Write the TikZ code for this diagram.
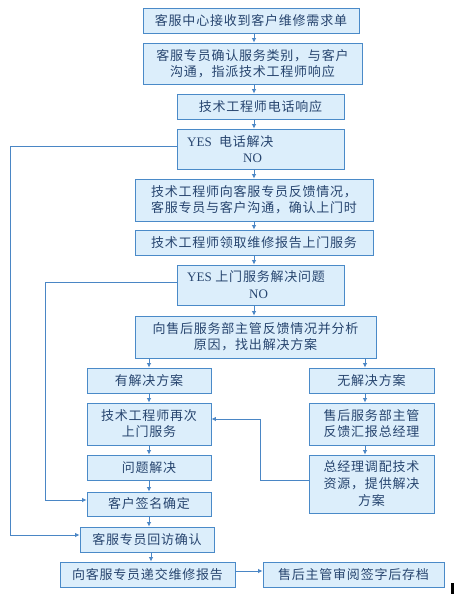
\documentclass[tikz,border=0pt]{standalone}
\usepackage{fontspec}
\setmainfont{Noto Sans CJK SC}[LetterSpace=6]
\newfontfamily\yesfont{Liberation Serif}
\usetikzlibrary{arrows.meta,shadows}
\definecolor{boxfill}{HTML}{DCEEFB}
\definecolor{boxline}{HTML}{4A8AC8}
\definecolor{boxdark}{HTML}{2F6FAF}
\definecolor{txtc}{HTML}{27456F}
\definecolor{conn}{HTML}{4A86C5}
\tikzset{
  box/.style={draw=boxline, fill=boxfill, line width=0.9pt, text=txtc, inner sep=0pt,
    font=\fontsize{13}{16}\selectfont, align=center,
    drop shadow={shadow xshift=0.9pt, shadow yshift=-0.9pt, fill=boxdark, opacity=1}},
  lbl/.style={text=txtc, inner sep=0pt, font=\fontsize{13}{16}\selectfont},
  arr/.style={draw=conn, line width=0.8pt, -{Latex[length=4.5pt,width=4.5pt]}},
}
\begin{document}
\begin{tikzpicture}[x=1pt,y=-1pt]
\useasboundingbox (0,0) rectangle (454,594);
\fill[white] (0,0) rectangle (454,594);

\node[box, minimum width=216pt, minimum height=25pt] (b1) at (251,20.5) {客服中心接收到客户维修需求单};
\node[box, minimum width=219pt, minimum height=41pt] (b2) at (252.5,63.5) {客服专员确认服务类别，与客户\\沟通，指派技术工程师响应};
\node[box, minimum width=167pt, minimum height=25pt] (b3) at (260.5,106.5) {技术工程师电话响应};
\node[box, minimum width=167pt, minimum height=40pt] (b4) at (260.5,149) {};
\node[lbl, anchor=west] (t4a) at (187,142) {{\yesfont YES}\ \ 电话解决};
\node[lbl] (t4b) at (252.5,158) {\yesfont NO};
\node[box, minimum width=238pt, minimum height=42pt, align=left] (b5) at (254,200) {技术工程师向客服专员反馈情况，\\客服专员与客户沟通，确认上门时};
\node[box, minimum width=238pt, minimum height=25pt] (b6) at (254,242.5) {技术工程师领取维修报告上门服务};
\node[box, minimum width=167pt, minimum height=40pt] (b7) at (260.5,285) {};
\node[lbl, anchor=west] (t7a) at (187,277) {{\yesfont YES} 上门服务解决问题};
\node[lbl] (t7b) at (258.5,294) {\yesfont NO};
\node[box, minimum width=241pt, minimum height=42pt] (b8) at (255.5,337) {向售后服务部主管反馈情况并分析\\原因，找出解决方案};
\node[box, minimum width=124pt, minimum height=25pt] (b9) at (149,380.5) {有解决方案};
\node[box, minimum width=125pt, minimum height=25pt] (b10) at (371.5,380.5) {无解决方案};
\node[box, minimum width=124pt, minimum height=42pt] (b11) at (149,424) {技术工程师再次\\上门服务};
\node[box, minimum width=125pt, minimum height=42pt] (b12) at (371.5,424) {售后服务部主管\\反馈汇报总经理};
\node[box, minimum width=124pt, minimum height=25pt] (b13) at (149,467.5) {问题解决};
\node[box, minimum width=125pt, minimum height=58pt, font=\fontsize{13}{17}\selectfont] (b14) at (371.5,484) {总经理调配技术\\资源，提供解决\\方案};
\node[box, minimum width=124pt, minimum height=24pt] (b15) at (149,504) {客户签名确定};
\node[box, minimum width=134pt, minimum height=25pt] (b16) at (147,539.5) {客服专员回访确认};
\node[box, minimum width=175pt, minimum height=25pt] (b17) at (147.5,574.5) {向客服专员递交维修报告};
\node[box, minimum width=181pt, minimum height=25pt] (b18) at (353.5,574.5) {售后主管审阅签字后存档};

\coordinate (mx) at (254,0);
\coordinate (lx) at (149,0);
\coordinate (lx2) at (151,0);
\coordinate (rx) at (365,0);
\coordinate (hy) at (0,571);

\draw[arr] (b1.south -| mx) -- (b2.north -| mx);
\draw[arr] (b2.south -| mx) -- (b3.north -| mx);
\draw[arr] (b3.south -| mx) -- (b4.north -| mx);
\draw[arr] (b4.south -| mx) -- (b5.north -| mx);
\draw[arr] (b5.south -| mx) -- (b6.north -| mx);
\draw[arr] (b6.south -| mx) -- (b7.north -| mx);
\draw[arr] (b7.south -| mx) -- (b8.north -| mx);
\draw[arr] (b8.south -| lx) -- (b9.north -| lx);
\draw[arr] (b8.south -| rx) -- (b10.north -| rx);
\draw[arr] (b9.south -| lx) -- (b11.north -| lx);
\draw[arr] (b11.south -| lx) -- (b13.north -| lx);
\draw[arr] (b13.south -| lx) -- (b15.north -| lx);
\draw[arr] (b15.south -| lx) -- (b16.north -| lx);
\draw[arr] (b16.south -| lx2) -- (b17.north -| lx2);
\draw[arr] (b10.south -| rx) -- (b12.north -| rx);
\draw[arr] (b12.south -| rx) -- (b14.north -| rx);
\draw[arr] (b17.east |- hy) -- (b18.west |- hy);

\coordinate (l1a) at (10,146);
\coordinate (l1b) at (10,535);
\draw[arr] (b4.west |- l1a) -- (l1a) -- (l1b) -- (b16.west |- l1b);
\coordinate (l2a) at (45,282);
\coordinate (l2b) at (45,500);
\draw[arr] (b7.west |- l2a) -- (l2a) -- (l2b) -- (b15.west |- l2b);
\coordinate (l3a) at (260,480);
\coordinate (l3b) at (260,419);
\draw[arr] (b14.west |- l3a) -- (l3a) -- (l3b) -- (b11.east |- l3b);

\fill[black] (451,583) rectangle (454,594);
\end{tikzpicture}
\end{document}
